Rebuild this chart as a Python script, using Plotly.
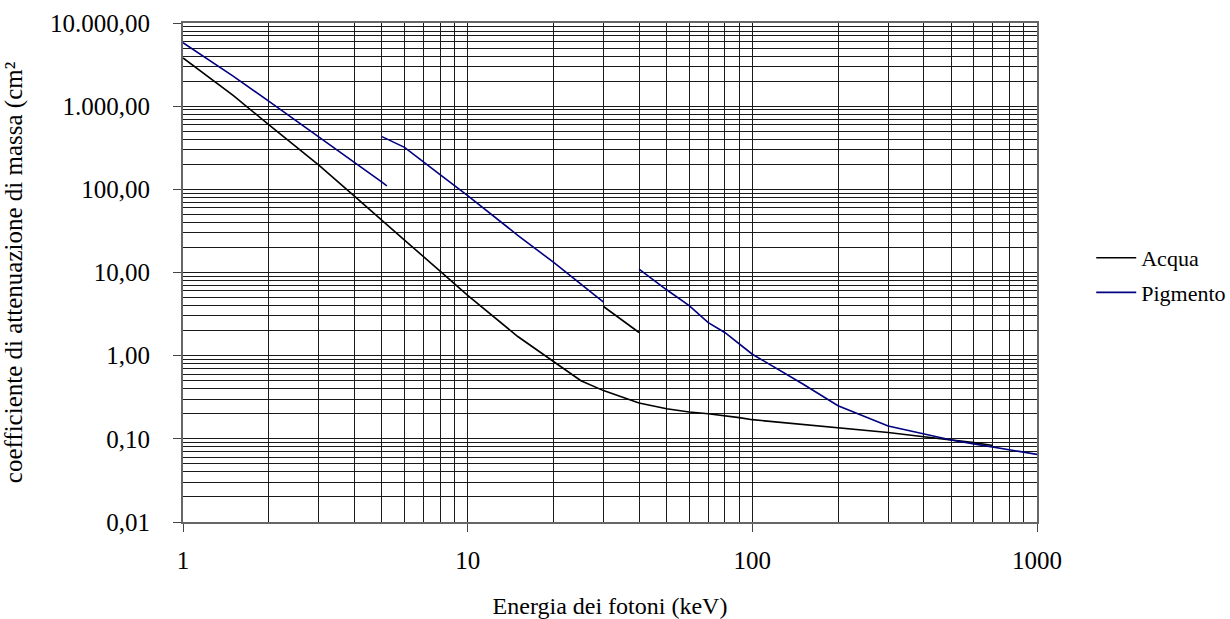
import plotly.graph_objects as go

# ---- data ----
acqua_x = [1, 1.5, 2, 3, 4, 5, 6, 8, 10, 15, 20, 25, 30, 40, 50, 60, 70, 80, 90, 100,
           150, 200, 300, 400, 500, 600, 700]
acqua_y = [3800, 1350, 600, 195, 83, 42, 24.5, 10.4, 5.3, 1.7, 0.85, 0.50, 0.38, 0.27, 0.23,
           0.21, 0.20, 0.19, 0.18, 0.17, 0.15, 0.137, 0.119, 0.106, 0.097, 0.090, 0.083]

pig1_x = [1, 1.5, 2, 3, 4, 5, 5.2]
pig1_y = [5800, 2300, 1150, 430, 210, 122, 110]
pig2_x = [5, 6, 8, 10, 15, 20, 30]
pig2_y = [430, 320, 150, 84, 28, 13.3, 4.4]
pig3_x = [30, 40]
pig3_y = [3.9, 1.9]
pig4_x = [40, 50, 60, 70, 80, 100, 150, 200, 300, 400, 500, 600, 800, 1000]
pig4_y = [11, 6.2, 4.0, 2.5, 1.9, 1.04, 0.46, 0.25, 0.143, 0.115, 0.097, 0.087, 0.074, 0.065]

x_ticks = [1, 10, 100, 1000]
x_ticktext = ["1", "10", "100", "1000"]
y_ticks = [0.01, 0.1, 1, 10, 100, 1000, 10000]

series_names = ["Acqua", "Pigmento"]
x_title = "Energia dei fotoni (keV)"
y_title = "coefficiente di attenuazione di massa (cm²"

FONT = "Times New Roman, Liberation Serif, DejaVu Serif, serif"
BLUE = "#000080"

pig_x = pig1_x + [None] + pig2_x + [None] + pig4_x
pig_y = pig1_y + [None] + pig2_y + [None] + pig4_y

fig = go.Figure()
fig.add_trace(go.Scatter(x=acqua_x, y=acqua_y, mode="lines", name=series_names[0],
                         line=dict(color="#000000", width=1.6), legendgroup="a"))
fig.add_trace(go.Scatter(x=pig_x, y=pig_y, mode="lines", name=series_names[1],
                         line=dict(color=BLUE, width=1.6), connectgaps=False,
                         legendgroup="b"))
fig.add_trace(go.Scatter(x=pig3_x, y=pig3_y, mode="lines", showlegend=False,
                         line=dict(color="#000000", width=1.6), legendgroup="c"))

gridc = "#1a1a1a"
fig.update_layout(
    width=1230, height=619,
    margin=dict(l=183, r=193, t=23, b=97, autoexpand=False),
    paper_bgcolor="white", plot_bgcolor="white",
    separators=",.",
    font=dict(family=FONT, size=22, color="black"),
    showlegend=True,
    legend=dict(x=1.0635, y=0.494, xanchor="left", yanchor="middle",
                font=dict(family=FONT, size=22, color="black"),
                bgcolor="rgba(0,0,0,0)", borderwidth=0, tracegroupgap=3,
                itemwidth=40),
    xaxis=dict(
        type="log", range=[0, 3], automargin=False,
        tickvals=x_ticks, ticktext=x_ticktext,
        ticks="outside", ticklen=8, tickcolor="#444", tickwidth=1,
        showline=True, linecolor="#666", linewidth=2, mirror=True,
        showgrid=True, gridcolor=gridc, gridwidth=1,
        minor=dict(showgrid=True, gridcolor=gridc, gridwidth=1, dtick="D1", ticks=""),
        tickfont=dict(family=FONT, size=25, color="black"),
        ticklabelstandoff=7,
        zeroline=False,
        title=dict(text=x_title, font=dict(family=FONT, size=24, color="black"), standoff=25),
    ),
    yaxis=dict(
        type="log", range=[-2, 4], automargin=False,
        tickvals=y_ticks, tickformat=",.2f",
        ticks="outside", ticklen=8, tickcolor="#444", tickwidth=1,
        showline=True, linecolor="#666", linewidth=2, mirror=True,
        showgrid=True, gridcolor=gridc, gridwidth=1,
        minor=dict(showgrid=True, gridcolor=gridc, gridwidth=1, dtick="D1", ticks=""),
        tickfont=dict(family=FONT, size=25, color="black"),
        ticklabelstandoff=18,
        zeroline=False,
        title=dict(text=y_title, font=dict(family=FONT, size=25, color="black"), standoff=25),
    ),
)

fig.write_html("out.html", config={"displayModeBar": False},
               post_script="document.body.style.margin='0px';")
